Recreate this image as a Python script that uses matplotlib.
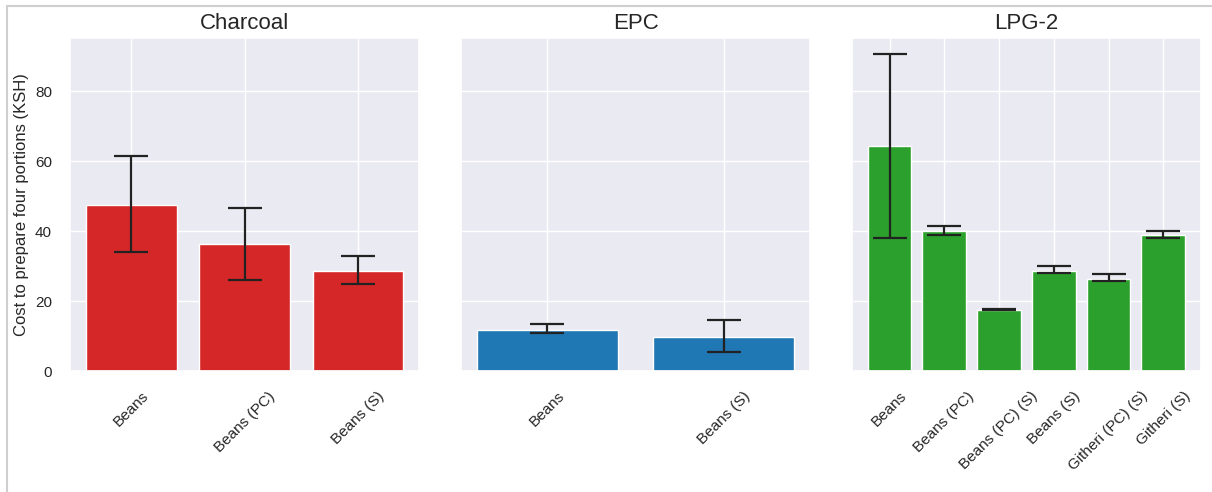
import matplotlib
matplotlib.use("Agg")
import matplotlib.pyplot as plt
from matplotlib.lines import Line2D
import seaborn as sns

# Mean cost per fuel and dish, with lower / upper bounds of the interval
charcoal_dishes = ["Beans", "Beans (PC)", "Beans (S)"]
charcoal_mean = [47.4, 36.3, 28.7]
charcoal_low = [33.9, 26.1, 24.8]
charcoal_high = [61.5, 46.6, 33.0]

epc_dishes = ["Beans", "Beans (S)"]
epc_mean = [11.75, 9.7]
epc_low = [10.8, 5.4]
epc_high = [13.5, 14.5]

lpg_dishes = ["Beans", "Beans (PC)", "Beans (PC) (S)", "Beans (S)",
              "Githeri (PC) (S)", "Githeri (S)"]
lpg_mean = [64.2, 40.0, 17.4, 28.6, 26.3, 38.8]
lpg_low = [38.1, 39.0, 17.3, 27.9, 25.8, 38.1]
lpg_high = [90.7, 41.3, 17.7, 29.9, 27.8, 40.0]

panels = [
    ("Charcoal", charcoal_dishes, charcoal_mean, charcoal_low, charcoal_high, "#d62728"),
    ("EPC", epc_dishes, epc_mean, epc_low, epc_high, "#1f77b4"),
    ("LPG-2", lpg_dishes, lpg_mean, lpg_low, lpg_high, "#2ca02c"),
]

sns.set_theme(style="darkgrid")
plt.rcParams["font.family"] = ["Liberation Sans", "DejaVu Sans"]
plt.rcParams["xtick.major.pad"] = 7
plt.rcParams["ytick.major.pad"] = 7
plt.rcParams["xtick.labelsize"] = 11
plt.rcParams["ytick.labelsize"] = 11

fig, axes = plt.subplots(1, 3, sharey=True, figsize=(12.12, 4.92), dpi=100)
fig.subplots_adjust(left=0.0578, right=0.991, bottom=0.2459, top=0.9234, wspace=0.119)

for ax, (title, dishes, mean, low, high, color) in zip(axes, panels):
    x = list(range(len(dishes)))
    yerr = [[m - lo for m, lo in zip(mean, low)], [hi - m for m, hi in zip(mean, high)]]
    ax.bar(x, mean, width=0.8, color=color)
    ax.errorbar(x, mean, yerr=yerr, fmt="none", ecolor="#222222",
                elinewidth=1.6, capsize=12, capthick=1.6)
    ax.set_xticks(x)
    ax.set_xticklabels(dishes, rotation=45)
    ax.set_title(title, fontsize=16)

axes[0].set_ylabel("Cost to prepare four portions (KSH)", fontsize=12)
axes[0].set_yticks([0, 20, 40, 60, 80])

# thin frame along the top and left edge of the canvas
frame_color = "#cfcfcf"
fig.add_artist(Line2D([7 / 1212, 1.0], [1 - 6 / 492, 1 - 6 / 492],
                      transform=fig.transFigure, color=frame_color, lw=1.5))
fig.add_artist(Line2D([7 / 1212, 7 / 1212], [0.0, 1 - 6 / 492],
                      transform=fig.transFigure, color=frame_color, lw=1.5))

fig.savefig("out.png", dpi=100)
